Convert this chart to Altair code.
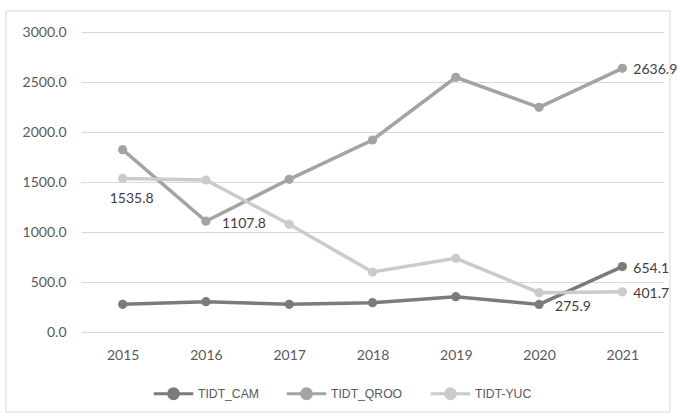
import altair as alt
import pandas as pd

years = ["2015", "2016", "2017", "2018", "2019", "2020", "2021"]
series_names = ["TIDT_CAM", "TIDT_QROO", "TIDT-YUC"]
cam = [277, 303, 277, 293, 353, 275.9, 654.1]
qroo = [1823, 1107.8, 1527, 1920, 2547, 2247, 2636.9]
yuc = [1535.8, 1520, 1077, 600, 737, 393, 401.7]
colors = ["#7b7b7b", "#a3a3a3", "#cbcbcb"]

rows = []
for name, vals in zip(series_names, [cam, qroo, yuc]):
    for y, v in zip(years, vals):
        rows.append({"year": y, "value": v, "series": name})
df = pd.DataFrame(rows)

FONT = "Lato"

x = alt.X("year:O", title=None, sort=years,
          scale=alt.Scale(type="point", padding=0.5),
          axis=alt.Axis(labelAngle=0, ticks=False, domain=False, grid=False,
                        labelPadding=16, labelFontSize=14, labelColor="#595959",
                        labelFont=FONT))
y = alt.Y("value:Q", title=None,
          scale=alt.Scale(domain=[0, 3000]),
          axis=alt.Axis(values=[0, 500, 1000, 1500, 2000, 2500, 3000], format=".1f",
                        ticks=False, domain=False, gridColor="#d9d9d9", gridWidth=1,
                        labelPadding=15, labelFontSize=14, labelColor="#595959",
                        labelFont=FONT))
color = alt.Color("series:N", sort=series_names,
                  scale=alt.Scale(domain=series_names, range=colors),
                  legend=alt.Legend(title=None, orient="none", direction="horizontal",
                                    legendX=81, legendY=350,
                                    symbolType="M-2,0H2M0.5,0A0.5,0.5,0,1,1,-0.5,0A0.5,0.5,0,1,1,0.5,0Z",
                                    symbolSize=390, symbolStrokeWidth=3,
                                    labelFontSize=12.2, labelColor="#595959",
                                    labelFont="Liberation Sans",
                                    columnPadding=21, labelOffset=13))

base = alt.Chart(df)

frame = alt.Chart(pd.DataFrame({"k": [0]})).mark_rect(
    fill="transparent", stroke="#d9d9d9", strokeWidth=1, clip=False
).encode(x=alt.value(-75), x2=alt.value(589), y=alt.value(-21), y2=alt.value(380))

lines = base.mark_line(strokeWidth=3.5).encode(x=x, y=y, color=color)
points = base.mark_circle(size=85, opacity=1).encode(
    x=x, y=y,
    color=alt.Color("series:N", scale=alt.Scale(domain=series_names, range=colors), legend=None))

txt = dict(fontSize=14, font=FONT, color="#404040")
lab_right = base.transform_filter(alt.datum.year == "2021").mark_text(
    align="left", baseline="middle", dx=11, dy=2, **txt
).encode(x=x, y=y, text=alt.Text("value:Q", format=".1f"))
lab_below = base.transform_filter(
    (alt.datum.year == "2015") & (alt.datum.series == "TIDT-YUC")
).mark_text(align="center", baseline="middle", dx=9, dy=21, **txt
).encode(x=x, y=y, text=alt.Text("value:Q", format=".1f"))
lab_br = base.transform_filter(
    ((alt.datum.year == "2016") & (alt.datum.series == "TIDT_QROO")) |
    ((alt.datum.year == "2020") & (alt.datum.series == "TIDT_CAM"))
).mark_text(align="left", baseline="middle", dx=16, dy=3, **txt
).encode(x=x, y=y, text=alt.Text("value:Q", format=".1f"))

chart = alt.layer(frame, lines, points, lab_right, lab_below, lab_br).properties(
    width=583, height=300,
    autosize=alt.AutoSizeParams(type="none"),
    padding={"left": 81, "top": 32, "right": 14, "bottom": 81},
    background="white",
).configure_view(stroke=None)

chart.save("out.html", embed_options={"renderer": "svg", "actions": False})
